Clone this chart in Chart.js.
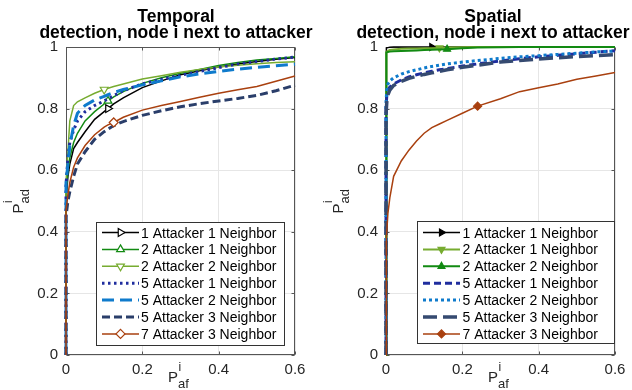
<!DOCTYPE html>
<html>
<head>
<meta charset="utf-8">
<script src="https://cdn.jsdelivr.net/npm/chart.js@4.4.1/dist/chart.umd.min.js"></script>
<style>
  html, body { margin: 0; padding: 0; background: #fff; }
  #wrap { position: relative; width: 632px; height: 390px; overflow: hidden; }
  .panel { position: absolute; top: 0; width: 316px; height: 390px; }
</style>
</head>
<body>
<div id="wrap">
  <div class="panel" style="left:0"><canvas id="temporal" width="316" height="390"></canvas></div>
  <div class="panel" style="left:316px"><canvas id="spatial" width="316" height="390"></canvas></div>
</div>
<script>
const FONT = '"Liberation Sans", Arial, Helvetica, sans-serif';

// legend labels, same for both panels
const seriesNames = [
  '1 Attacker 1 Neighbor', '2 Attacker 1 Neighbor', '2 Attacker 2 Neighbor',
  '5 Attacker 1 Neighbor', '5 Attacker 2 Neighbor', '5 Attacker 3 Neighbor',
  '7 Attacker 3 Neighbor'
];
const xTicks = [0, 0.2, 0.4, 0.6];
const yTicks = [0, 0.2, 0.4, 0.6, 0.8, 1];

// Temporal panel (P_af on x, P_ad on y)
const temporalX    = [0, 0, 0.005, 0.01, 0.02, 0.03, 0.05, 0.075, 0.1, 0.11, 0.125, 0.15, 0.2, 0.25, 0.3, 0.35, 0.4, 0.45, 0.5, 0.55, 0.6];
const temporal1A1N = [0, .50, .58, .62, .67, .69, .725, .765, .79, .80, .815, .835, .868, .89, .91, .923, .935, .945, .953, .96, .966];
const temporal2A1N = [0, .52, .60, .64, .69, .72, .76, .79, .815, .825, .838, .855, .882, .90, .915, .927, .94, .95, .958, .963, .968];
const temporal2A2N = [0, .56, .66, .76, .81, .822, .835, .85, .862, .866, .872, .88, .896, .907, .918, .927, .935, .941, .946, .95, .952];
const temporal5A1N = [0, .55, .64, .69, .73, .76, .79, .81, .825, .832, .842, .858, .88, .895, .908, .921, .933, .945, .953, .961, .967];
const temporal5A2N = [0, .56, .62, .68, .745, .785, .81, .828, .84, .845, .852, .862, .877, .89, .903, .913, .921, .928, .934, .939, .944];
const temporal5A3N = [0, .45, .50, .53, .58, .62, .66, .70, .725, .733, .745, .758, .778, .793, .806, .816, .825, .833, .843, .858, .876];
const temporal7A3N = [0, .47, .52, .56, .61, .64, .68, .715, .74, .747, .755, .772, .795, .81, .823, .837, .85, .861, .872, .889, .906];
const temporalMarkerX = [0.11, 0.11, 0.1, null, null, null, 0.125];

// Spatial panel
const spatialX    = [0, 0, 0.002, 0.005, 0.01, 0.02, 0.04, 0.06, 0.08, 0.1, 0.12, 0.14, 0.16, 0.2, 0.24, 0.3, 0.35, 0.4, 0.45, 0.5, 0.55, 0.6];
const spatial1A1N = [0, .995, .997, .998, .999, 1, 1, 1, 1, 1, 1, 1, 1, 1, 1, 1, 1, 1, 1, 1, 1, 1];
const spatial2A1N = [0, .98, .984, .987, .99, .992, .994, .995, .995, .996, .996, .997, .998, .999, 1, 1, 1, 1, 1, 1, 1, 1];
const spatial2A2N = [0, .978, .982, .984, .985, .986, .987, .988, .989, .99, .991, .992, .993, .996, .998, .999, 1, 1, 1, 1, 1, 1];
const spatial5A1N = [0, .80, .84, .86, .87, .88, .893, .903, .91, .916, .921, .926, .93, .938, .945, .955, .962, .968, .973, .978, .983, .988];
const spatial5A2N = [0, .82, .86, .88, .89, .90, .912, .92, .926, .932, .937, .941, .945, .951, .956, .963, .968, .972, .976, .98, .984, .987];
const spatial5A3N = [0, .78, .82, .845, .86, .875, .888, .898, .905, .911, .916, .921, .926, .934, .941, .951, .956, .961, .965, .969, .972, .975];
const spatial7A3N = [0, .15, .38, .46, .51, .58, .63, .665, .695, .72, .738, .75, .762, .785, .808, .832, .855, .868, .88, .895, .906, .917];
const spatialMarkerX = [0.12, 0.14, 0.16, null, null, null, 0.24];

const BLACK = '#000000', DKGREEN = '#128a12', LTGREEN = '#77ac30',
      DKBLUE = '#1f2d9e', LTBLUE = '#0f7bcc', NAVY = '#2a3e6a', ORANGE = '#a9400f';

const temporalStyles = [
  { color: BLACK,   width: 1.5, marker: 'triangle', rot: 90,  r: 4.5, fill: '#fff' },
  { color: DKGREEN, width: 1.5, marker: 'triangle', rot: 0,   r: 4.5, fill: '#fff' },
  { color: LTGREEN, width: 1.5, marker: 'triangle', rot: 180, r: 4.5, fill: '#fff' },
  { color: DKBLUE,  width: 3, dash: [2.5, 3.5] },
  { color: LTBLUE,  width: 3, dash: [12, 6] },
  { color: NAVY,    width: 3, dash: [8, 4] },
  { color: ORANGE,  width: 1.5, marker: 'rectRot', r: 4.5, fill: '#fff' }
];
const spatialStyles = [
  { color: BLACK,   width: 1.5, marker: 'triangle', rot: 90,  r: 4, fill: BLACK },
  { color: LTGREEN, width: 2,   marker: 'triangle', rot: 180, r: 4, fill: LTGREEN },
  { color: DKGREEN, width: 2,   marker: 'triangle', rot: 0,   r: 4, fill: DKGREEN },
  { color: DKBLUE,  width: 3, dash: [7, 4] },
  { color: LTBLUE,  width: 3, dash: [3, 3] },
  { color: '#354a70', width: 3.5, dash: [14, 6] },
  { color: ORANGE,  width: 1.5, marker: 'rectRot', r: 4, fill: ORANGE }
];

function makeSets(xs, ys, styles, markerX) {
  return ys.map((vals, i) => {
    const s = styles[i];
    const mi = markerX[i] == null ? -1 : xs.indexOf(markerX[i]);
    return {
      label: seriesNames[i],
      data: xs.map((x, k) => ({ x: x, y: vals[k] })),
      borderColor: s.color,
      borderWidth: s.width,
      borderDash: s.dash || [],
      pointStyle: s.marker || 'circle',
      pointRotation: s.rot || 0,
      pointRadius: c => (c.dataIndex === mi ? s.r : 0),
      pointBorderColor: s.color,
      pointBackgroundColor: s.fill || s.color,
      pointBorderWidth: 1.2,
      pointHoverRadius: 0,
      markerSize: s.marker ? s.r : 0,
      tension: 0,
      clip: false,
      order: -i
    };
  });
}

function drawP(ctx, sub) {
  ctx.font = '15px ' + FONT;
  ctx.fillText('P', 0, 0);
  const w = ctx.measureText('P').width;
  ctx.font = '12px ' + FONT;
  ctx.fillText('i', w + 0.5, -11);
  ctx.font = '13px ' + FONT;
  ctx.fillText(sub, w, 6);
}

function decorPlugin(d) {
  return {
    id: 'decor',
    beforeDatasetsDraw(chart) {
      const { ctx, chartArea: a, scales } = chart;
      const L = Math.round(a.left) + 0.5, R = Math.round(a.right) - 0.5;
      const T = Math.round(a.top) + 0.5, B = Math.round(a.bottom) - 0.5;
      ctx.save();
      ctx.strokeStyle = '#555';
      ctx.lineWidth = 1;
      ctx.strokeRect(L, T, R - L, B - T);
      ctx.beginPath();
      xTicks.forEach(v => {
        const px = Math.round(scales.x.getPixelForValue(v)) + 0.5;
        ctx.moveTo(px, B); ctx.lineTo(px, B - 3);
        ctx.moveTo(px, T); ctx.lineTo(px, T + 3);
      });
      yTicks.forEach(v => {
        const py = Math.round(scales.y.getPixelForValue(v)) + 0.5;
        ctx.moveTo(L, py); ctx.lineTo(L + 3, py);
        ctx.moveTo(R, py); ctx.lineTo(R - 3, py);
      });
      ctx.stroke();
      ctx.restore();
    },
    afterDraw(chart) {
      const { ctx, chartArea: a } = chart;
      ctx.save();
      // title
      ctx.fillStyle = '#000';
      ctx.textAlign = 'center';
      ctx.textBaseline = 'alphabetic';
      ctx.font = 'bold 17.5px ' + FONT;
      ctx.fillText(d.title[0], d.titleX, 21.5);
      ctx.fillText(d.title[1], d.titleX, 37.5);
      // axis labels
      ctx.textAlign = 'left';
      ctx.fillStyle = '#262626';
      ctx.save();
      ctx.translate(a.left + 102, 382);
      drawP(ctx, 'af');
      ctx.restore();
      ctx.save();
      ctx.translate(a.left - 43, 213.5);
      ctx.rotate(-Math.PI / 2);
      drawP(ctx, 'ad');
      ctx.restore();
      // legend
      const lg = d.legend;
      ctx.fillStyle = '#fff';
      ctx.fillRect(lg.x0, lg.y0, lg.x1 - lg.x0, lg.y1 - lg.y0);
      ctx.strokeStyle = '#333';
      ctx.lineWidth = 1;
      ctx.strokeRect(lg.x0 + 0.5, lg.y0 + 0.5, lg.x1 - lg.x0, lg.y1 - lg.y0);
      chart.data.datasets.forEach((ds, i) => {
        const yy = lg.row0 + i * lg.rowGap;
        ctx.strokeStyle = ds.borderColor;
        ctx.lineWidth = ds.borderWidth;
        ctx.setLineDash(ds.borderDash);
        ctx.beginPath();
        ctx.moveTo(lg.line0, yy);
        ctx.lineTo(lg.line1, yy);
        ctx.stroke();
        ctx.setLineDash([]);
        if (ds.markerSize) {
          ctx.fillStyle = ds.pointBackgroundColor;
          ctx.strokeStyle = ds.borderColor;
          ctx.lineWidth = 1.2;
          Chart.helpers.drawPoint(ctx, {
            pointStyle: ds.pointStyle, rotation: ds.pointRotation,
            radius: ds.markerSize, borderWidth: 1.2
          }, (lg.line0 + lg.line1) / 2, yy);
        }
        ctx.fillStyle = '#000';
        ctx.font = '14px ' + FONT;
        ctx.textBaseline = 'alphabetic';
        ctx.fillText(ds.label, lg.text, yy + 5);
      });
      ctx.restore();
    }
  };
}

function makeChart(id, xs, ys, styles, markerX, d) {
  return new Chart(document.getElementById(id), {
    type: 'line',
    data: { datasets: makeSets(xs, ys, styles, markerX) },
    options: {
      responsive: false,
      animation: false,
      events: [],
      layout: { padding: { top: 47, right: d.padRight, left: 0, bottom: 0 } },
      plugins: { legend: { display: false }, tooltip: { enabled: false }, title: { display: false } },
      scales: {
        x: {
          type: 'linear', min: 0, max: 0.6,
          afterFit: s => { s.height = 35; },
          afterBuildTicks: s => { s.ticks = xTicks.map(v => ({ value: v })); },
          ticks: {
            padding: 6, color: '#262626', font: { family: FONT, size: 15 },
            maxRotation: 0, autoSkip: false, callback: v => String(+v.toFixed(1))
          },
          grid: { color: '#e6e6e6', drawTicks: false },
          border: { display: false }
        },
        y: {
          type: 'linear', min: 0, max: 1,
          afterFit: s => { s.width = d.yWidth; },
          afterBuildTicks: s => { s.ticks = yTicks.map(v => ({ value: v })); },
          ticks: {
            padding: 8, color: '#262626', font: { family: FONT, size: 15 },
            autoSkip: false, callback: v => String(+v.toFixed(1))
          },
          grid: { color: '#e6e6e6', drawTicks: false },
          border: { display: false }
        }
      }
    },
    plugins: [decorPlugin(d)]
  });
}

makeChart('temporal', temporalX,
  [temporal1A1N, temporal2A1N, temporal2A2N, temporal5A1N, temporal5A2N, temporal5A3N, temporal7A3N],
  temporalStyles, temporalMarkerX, {
    title: ['Temporal', 'detection, node i next to attacker'], titleX: 176,
    yWidth: 66, padRight: 21,
    legend: { x0: 96, y0: 222, x1: 284, y1: 345, row0: 232.5, rowGap: 16.9, line0: 102, line1: 139, text: 141 }
  });

makeChart('spatial', spatialX,
  [spatial1A1N, spatial2A1N, spatial2A2N, spatial5A1N, spatial5A2N, spatial5A3N, spatial7A3N],
  spatialStyles, spatialMarkerX, {
    title: ['Spatial', 'detection, node i next to attacker'], titleX: 177,
    yWidth: 70, padRight: 17,
    legend: { x0: 101, y0: 221, x1: 298, y1: 343, row0: 232.5, rowGap: 16.9, line0: 107, line1: 144, text: 146.5 }
  });
</script>
</body>
</html>
